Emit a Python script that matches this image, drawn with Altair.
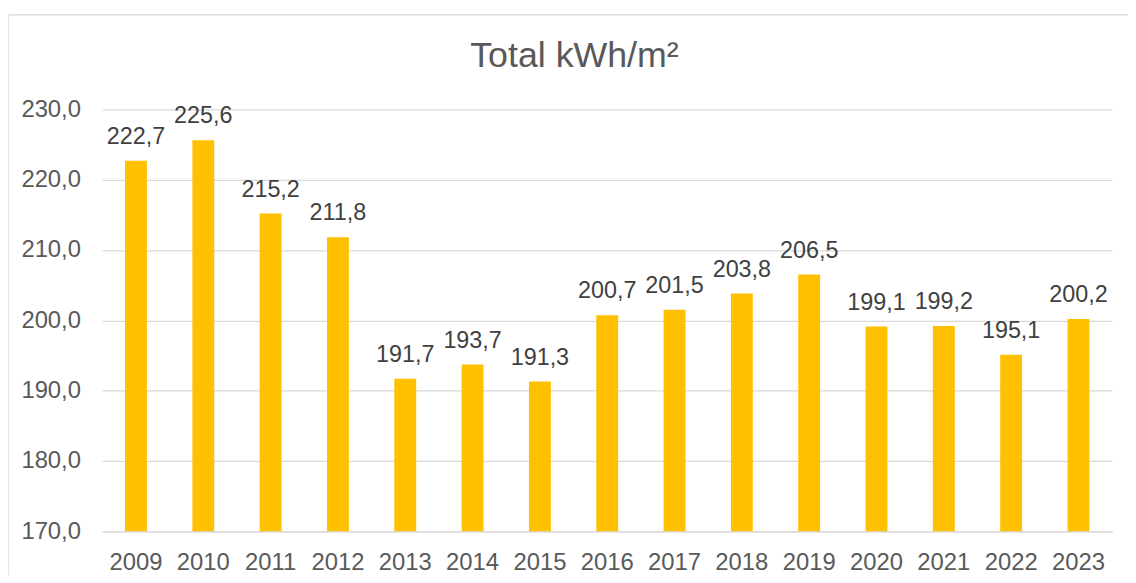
import altair as alt
import pandas as pd

years = ["2009", "2010", "2011", "2012", "2013", "2014", "2015", "2016",
         "2017", "2018", "2019", "2020", "2021", "2022", "2023"]
values = [222.7, 225.6, 215.2, 211.8, 191.7, 193.7, 191.3, 200.7,
          201.5, 203.8, 206.5, 199.1, 199.2, 195.1, 200.2]
y_ticks = [170, 180, 190, 200, 210, 220, 230]

df = pd.DataFrame({"year": years, "value": values})
FONT = "Liberation Sans"
W, H = 1017, 425

base = alt.Chart(df)

x_enc = alt.X("year:N", sort=years, title=None,
              scale=alt.Scale(paddingInner=0.675, paddingOuter=0.3375),
              axis=alt.Axis(labelAngle=0, labelFontSize=24, labelColor="#595959",
                            labelFont=FONT, ticks=False, domainColor="#D9D9D9",
                            domainWidth=1.3, labelPadding=19, grid=False))
y_enc = alt.Y("value:Q", title=None,
              scale=alt.Scale(domain=[170, 230], nice=False, zero=False),
              axis=alt.Axis(values=y_ticks, labelFontSize=24, labelColor="#595959",
                            labelFont=FONT, ticks=False, domain=False,
                            gridColor="#D9D9D9", gridWidth=1.3, labelPadding=22,
                            labelExpr="replace(format(datum.value, '.1f'), '.', ',')"))

bars = base.mark_bar(color="#FFC000", clip=True).encode(x=x_enc, y=y_enc)

labels = base.transform_calculate(
    lab="replace(format(datum.value, '.1f'), '.', ',')"
).mark_text(font=FONT, fontSize=23.5, color="#404040", baseline="alphabetic",
            dy=-17).encode(x=alt.X("year:N", sort=years), y="value:Q", text="lab:N")

border = alt.Chart(pd.DataFrame({"b": [0]})).mark_rect(
    fill=None, stroke="#D9D9D9", strokeWidth=1.3, clip=False
).encode(x=alt.value(-95), x2=alt.value(W + 40), y=alt.value(-95), y2=alt.value(H + 60))

chart = alt.layer(border, bars, labels).properties(
    width=W, height=H,
    autosize=alt.AutoSizeParams(type="none"),
    padding={"left": 95, "top": 100, "right": 16, "bottom": 42},
    title=alt.TitleParams("Total kWh/m²", font=FONT, fontSize=36, color="#595959",
                          fontWeight="normal", anchor="middle", baseline="alphabetic",
                          offset=0, dx=-33, dy=89),
).configure_view(stroke=None)

chart.save("out.html", embed_options={"renderer": "svg", "actions": False})
